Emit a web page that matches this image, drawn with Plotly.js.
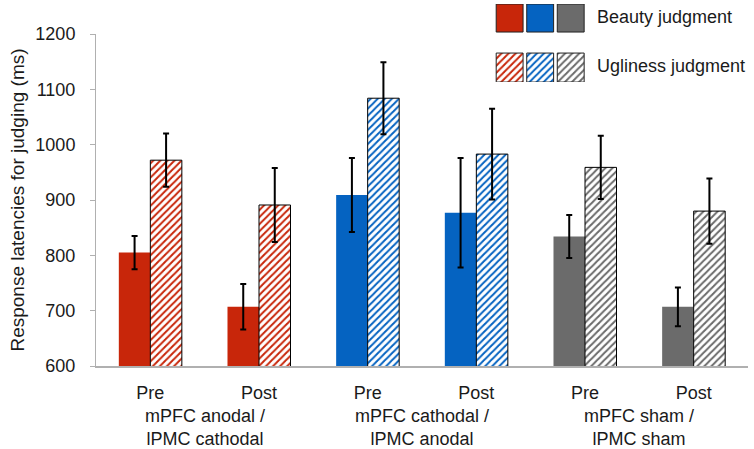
<!DOCTYPE html>
<html>
<head>
<meta charset="utf-8">
<script src="https://cdn.plot.ly/plotly-3.0.1.min.js"></script>
<style>html,body{margin:0;padding:0;background:#fff;}#chart{width:754px;height:449px;}</style>
</head>
<body>
<div id="chart"></div>
<script>
// ---- data ----
const tickLabels = ['Pre', 'Post', 'Pre', 'Post', 'Pre', 'Post'];
const groupLabels = ['mPFC anodal /<br>lPMC cathodal', 'mPFC cathodal /<br>lPMC anodal', 'mPFC sham /<br>lPMC sham'];
const beauty = [805, 707, 909, 877, 834, 707];
const beautyErr = [30, 41, 67, 99, 39, 35];
const ugliness = [972, 891, 1084, 983, 959, 880];
const uglinessErr = [48, 67, 65, 82, 57, 59];
const groupColors = ['#C8260A', '#0563C1', '#6B6B6B'];
const legendNames = ['Beauty judgment', 'Ugliness judgment'];

// ---- derived ----
const xs = tickLabels.map((_, i) => i);
const barColors = xs.map(i => groupColors[Math.floor(i / 2)]);
const FONT = 'Liberation Sans, Arial, sans-serif';
const TXT = '#1a1a1a';

const traces = [
  {
    type: 'bar', x: xs, y: beauty, name: legendNames[0],
    marker: {color: barColors, line: {width: 0}},
    error_y: {type: 'data', array: beautyErr, visible: true, color: '#000', thickness: 2, width: 3},
    hoverinfo: 'y'
  },
  {
    type: 'bar', x: xs, y: ugliness, name: legendNames[1],
    marker: {color: '#fff', line: {width: 1, color: '#000'},
             pattern: {shape: '/', fgcolor: barColors, bgcolor: '#fff', size: 5, solidity: 0.4}},
    error_y: {type: 'data', array: uglinessErr, visible: true, color: '#000', thickness: 2, width: 3},
    hoverinfo: 'y'
  },
  // legend swatches drawn on a small helper subplot
  {
    type: 'bar', x: [0, 1, 2], y: [28, 28, 28], base: 50, width: 0.88, offset: -0.44,
    xaxis: 'x2', yaxis: 'y2', hoverinfo: 'skip',
    marker: {color: groupColors, line: {width: 1, color: '#222'}}
  },
  {
    type: 'bar', x: [0, 1, 2], y: [29, 29, 29], base: 0, width: 0.88, offset: -0.44,
    xaxis: 'x2', yaxis: 'y2', hoverinfo: 'skip',
    marker: {color: '#fff', line: {width: 1, color: '#222'},
             pattern: {shape: '/', fgcolor: groupColors, bgcolor: '#fff', size: 5, solidity: 0.4}}
  }
];

const annotations = groupLabels.map((t, g) => ({
  text: t, x: 2 * g + 0.5, xref: 'x', y: 0, yref: 'paper',
  yanchor: 'top', xanchor: 'center', yshift: -38, showarrow: false,
  align: 'center', font: {family: FONT, size: 18, color: TXT}
}));
annotations.push(
  {text: legendNames[0], x: 0.766, xref: 'paper', y: 0.960, yref: 'paper', xanchor: 'left', yanchor: 'middle',
   showarrow: false, font: {family: FONT, size: 18, color: TXT}},
  {text: legendNames[1], x: 0.766, xref: 'paper', y: 0.824, yref: 'paper', xanchor: 'left', yanchor: 'middle',
   showarrow: false, font: {family: FONT, size: 18, color: TXT}}
);

const layout = {
  width: 754, height: 449,
  margin: {l: 96, r: 6, t: 2, b: 83},
  paper_bgcolor: '#fff', plot_bgcolor: '#fff',
  font: {family: FONT, size: 18, color: TXT},
  barmode: 'group', bargap: 0.42, bargroupgap: 0,
  showlegend: false,
  xaxis: {
    range: [-0.5, 5.5], tickmode: 'array', tickvals: xs, ticktext: tickLabels,
    showline: true, linecolor: '#B0B0B0', linewidth: 2, ticks: '', showgrid: false, zeroline: false,
    ticklabelstandoff: 9, tickfont: {family: FONT, size: 18, color: TXT}, fixedrange: true
  },
  yaxis: {
    domain: [0, 0.912], range: [600, 1200], dtick: 100, tick0: 600,
    showline: true, linecolor: '#B0B0B0', linewidth: 1, ticks: 'outside', ticklen: 5, tickcolor: '#B0B0B0',
    showgrid: false, zeroline: false, tickfont: {family: FONT, size: 18, color: TXT},
    ticklabelstandoff: 11,
    title: {text: 'Response latencies for judging (ms)', font: {family: FONT, size: 19, color: TXT}, standoff: 5},
    fixedrange: true
  },
  xaxis2: {domain: [0.611, 0.7515], range: [-0.5, 2.5], visible: false, fixedrange: true, anchor: 'y2'},
  yaxis2: {domain: [0.780, 0.9945], range: [0, 78], visible: false, fixedrange: true, anchor: 'x2'},
  annotations: annotations
};

Plotly.newPlot('chart', traces, layout, {displayModeBar: false, staticPlot: true});
</script>
</body>
</html>
